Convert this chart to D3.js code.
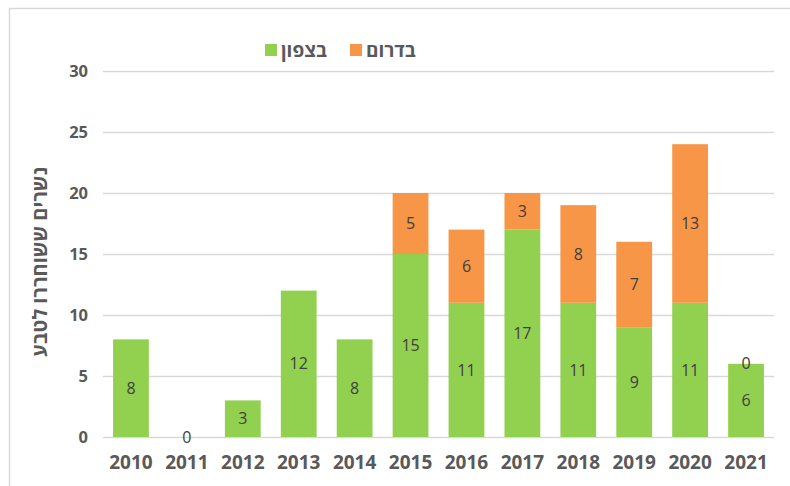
<!DOCTYPE html>
<html><head><meta charset="utf-8">
<script src="https://cdn.jsdelivr.net/npm/d3@7"></script>
<style>body{margin:0;background:#fff;}svg{display:block;font-family:"Open Sans","Noto Sans",sans-serif;}</style>
</head><body>
<svg id="c" width="790" height="486"></svg>
<script>
const years = ["2010","2011","2012","2013","2014","2015","2016","2017","2018","2019","2020","2021"];
const north = [8,0,3,12,8,15,11,17,11,9,11,6];
const south = [null,null,null,null,null,5,6,3,8,7,13,0];
const yTicks = [0,5,10,15,20,25,30];
const seriesNames = ["בצפון","בדרום"];
const colors = ["#92D050","#F79646"];
const yTitle = "נשרים ששוחררו לטבע";

const svg = d3.select("#c");
svg.append("rect").attr("x",9.5).attr("y",8.5).attr("width",800).attr("height",500)
  .attr("fill","none").attr("stroke","#d9d9d9").attr("stroke-width",1.5);

const pL=103,pR=774,pT=71,pB=437;
const x = d3.scaleBand().domain(years).range([pL,pR]).paddingInner(0.36).paddingOuter(0.18);
const y = d3.scaleLinear().domain([0,30]).range([pB,pT]);

const g = svg.append("g");
g.selectAll("line.grid").data(yTicks).join("line")
  .attr("x1",pL).attr("x2",pR).attr("y1",d=>Math.round(y(d))+0.5).attr("y2",d=>Math.round(y(d))+0.5)
  .attr("stroke","#d9d9d9").attr("stroke-width",1.5);

const yAxis = d3.axisLeft(y).tickValues(yTicks).tickSize(0).tickPadding(0);
const ya = svg.append("g").attr("transform",`translate(${pL-15},0)`).call(yAxis);
ya.select(".domain").remove();
ya.selectAll("text").attr("font-size",16.5).attr("font-weight","bold").attr("fill","#595959").attr("font-family","'Open Sans',sans-serif");

const xAxis = d3.axisBottom(x).tickSize(0).tickPadding(0);
const xa = svg.append("g").attr("transform",`translate(0,${pB+18})`).call(xAxis);
xa.select(".domain").remove();
xa.selectAll("text").attr("font-size",19).attr("font-weight","bold").attr("fill","#595959").attr("font-family","'Open Sans',sans-serif");

const data = years.map((yr,i)=>({yr,n:north[i],s:south[i]}));
g.selectAll("rect.n").data(data).join("rect")
  .attr("x",d=>x(d.yr)).attr("width",x.bandwidth())
  .attr("y",d=>y(d.n)).attr("height",d=>y(0)-y(d.n)).attr("fill",colors[0]);
g.selectAll("rect.s").data(data.filter(d=>d.s!=null)).join("rect")
  .attr("x",d=>x(d.yr)).attr("width",x.bandwidth())
  .attr("y",d=>y(d.n+d.s)).attr("height",d=>y(d.n)-y(d.n+d.s)).attr("fill",colors[1]);

const lbl = svg.append("g").attr("font-size",16).attr("fill","#404040").attr("text-anchor","middle").attr("font-family","'Open Sans',sans-serif");
lbl.selectAll("text.n").data(data).join("text")
  .attr("x",d=>x(d.yr)+x.bandwidth()/2).attr("y",d=>(y(0)+y(d.n))/2).attr("dy","0.35em").text(d=>d.n);
lbl.selectAll("text.s").data(data.filter(d=>d.s!=null)).join("text")
  .attr("x",d=>x(d.yr)+x.bandwidth()/2).attr("y",d=>(y(d.n)+y(d.n+d.s))/2).attr("dy","0.35em").text(d=>d.s);

svg.append("text").attr("transform",`translate(40,${(pT+pB)/2 + 8}) rotate(-90)`)
  .attr("text-anchor","middle").attr("font-size",20).attr("font-weight","bold").attr("fill","#595959")
  .attr("dy","0.35em").attr("direction","rtl").text(yTitle);

const leg = svg.append("g").attr("font-size",19).attr("font-weight","bold").attr("fill","#595959");
const legItems = [{name:seriesNames[0],c:colors[0],x:265},{name:seriesNames[1],c:colors[1],x:350}];
legItems.forEach(it=>{
  leg.append("rect").attr("x",it.x).attr("y",44).attr("width",12).attr("height",12).attr("fill",it.c);
  leg.append("text").attr("x",it.x+16).attr("y",50).attr("dy","0.35em").attr("text-anchor","start").text(it.name);
});
</script>
</body></html>
